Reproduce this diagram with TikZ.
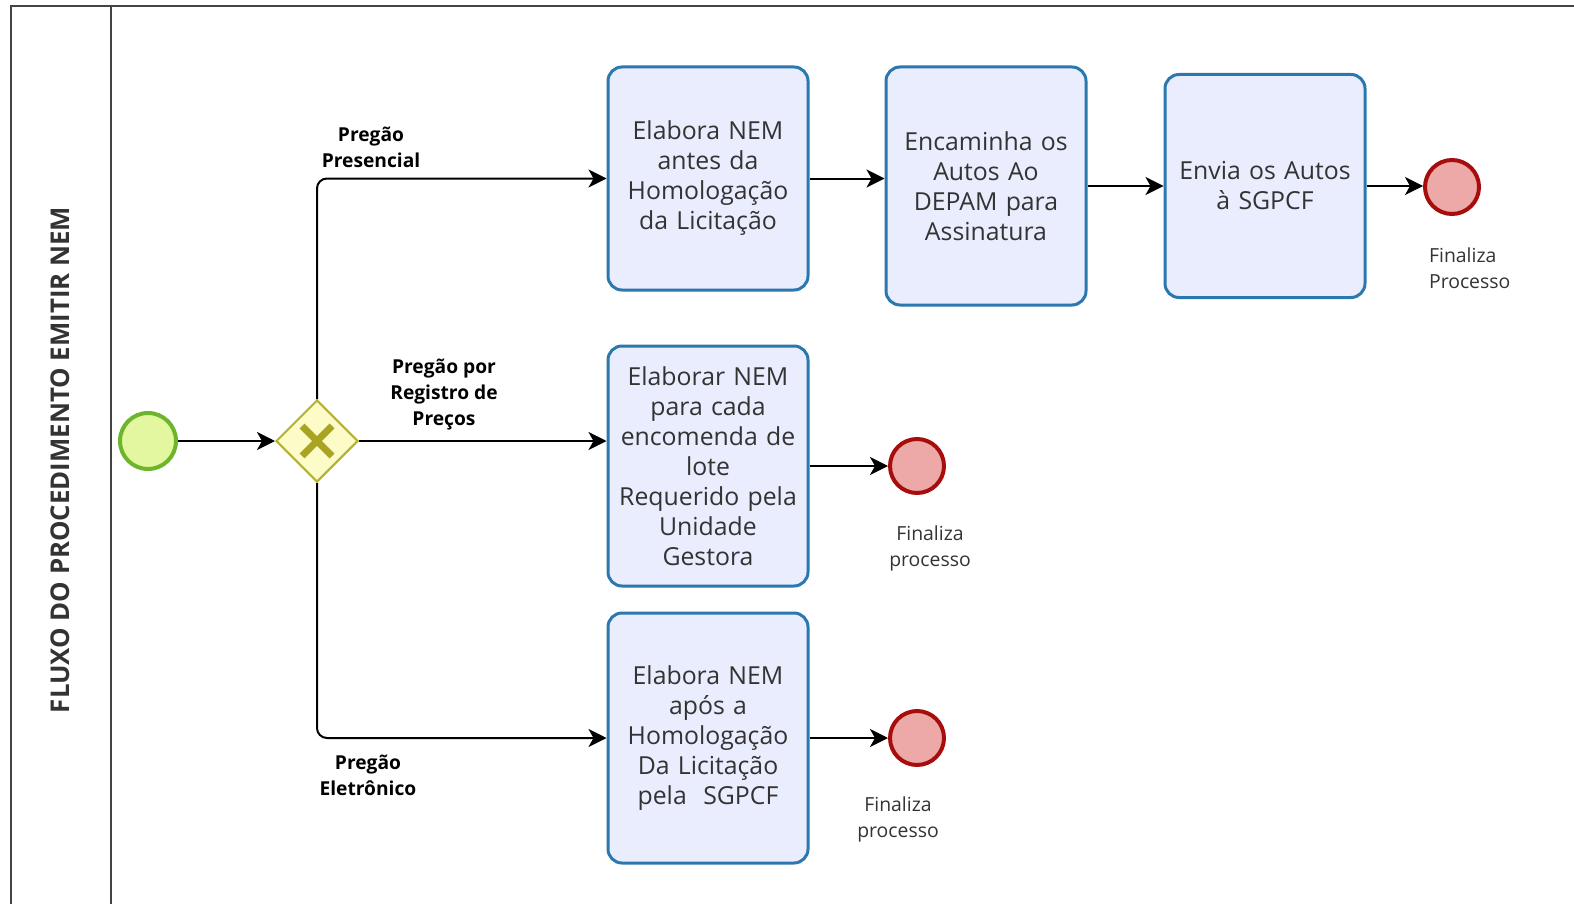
\documentclass[tikz,border=0pt]{standalone}
\usepackage{fontspec}
\setmainfont{Open Sans}
\usetikzlibrary{arrows.meta,shapes.geometric}
\definecolor{taskfill}{HTML}{E9EDFD}
\definecolor{taskline}{HTML}{2A78AE}
\definecolor{startfill}{HTML}{E2F7A0}
\definecolor{startline}{HTML}{6DB52B}
\definecolor{endfill}{HTML}{EDA8A8}
\definecolor{endline}{HTML}{A80D0D}
\definecolor{gwfill}{HTML}{FDFCC8}
\definecolor{gwline}{HTML}{B1B133}
\definecolor{gwmark}{HTML}{A9A523}
\definecolor{textgray}{HTML}{333333}
\definecolor{framegray}{HTML}{444444}
\begin{document}
\begin{tikzpicture}[x=0.5pt, y=-0.5pt,
    task/.style = {draw=taskline, line width=1.5pt, fill=taskfill, rounded corners=7pt, minimum width=100pt, text width=96pt, align=center, inner sep=0pt, text=textgray, font=\fontsize{12.4}{15}\selectfont},
    startev/.style = {circle, draw=startline, line width=2pt, fill=startfill, minimum size=28pt, inner sep=0pt},
    endev/.style = {circle, draw=endline, line width=2pt, fill=endfill, minimum size=27pt, inner sep=0pt},
    gateway/.style = {diamond, draw=gwline, line width=1pt, fill=gwfill, minimum width=41pt, minimum height=41pt, aspect=1, inner sep=0pt},
    flow/.style = {line width=1pt, -{Stealth[length=9pt, width=9pt, inset=2.5pt]}},
    lbl/.style = {align=center, font=\bfseries\fontsize{9.6}{13}\selectfont, text=black},
    endlbl/.style = {align=center, font=\fontsize{9.7}{13}\selectfont, text=textgray}]
    \useasboundingbox (0,0) rectangle (1574,904);
    % pool and lane
    \draw[framegray, line width=1.2pt] (11,904) -- (11,6) -- (1574,6);
    \draw[framegray, line width=1.2pt] (111,6) -- (111,904);
    \node (lane) at (60,460) [rotate=90, font=\bfseries\fontsize{12.9}{14}\selectfont, text=textgray] {FLUXO DO PROCEDIMENTO EMITIR NEM};
    % events and gateway
    \node (start) at (148,441) [startev] {};
    \node (gw) at (317,441) [gateway] {};
    \draw[gwmark, line width=3.5pt] (gw.center) ++(-15,-15) -- ++(30,30);
    \draw[gwmark, line width=3.5pt] (gw.center) ++(15,-15) -- ++(-30,30);
    % tasks
    \node (t1) at (708,178.5) [task, minimum height=111.5pt] {Elabora NEM\\antes da\\Homologação\\da Licitação};
    \node (t2) at (986,186) [task, minimum height=119pt] {Encaminha os\\Autos Ao\\DEPAM para\\Assinatura};
    \node (t3) at (1265,186) [task, minimum height=111.5pt] {Envia os Autos\\à SGPCF};
    \node (t4) at (708,466) [task, minimum height=120pt] {Elaborar NEM\\para cada\\encomenda de\\lote\\Requerido pela\\Unidade\\Gestora};
    \node (t5) at (708,738) [task, minimum height=125pt] {Elabora NEM\\após a\\Homologação\\Da Licitação\\pela\ \ SGPCF};
    \node (end1) at (1452,187) [endev] {};
    \node (end2) at (917,466) [endev] {};
    \node (end3) at (917,738) [endev] {};
    % connectors
    \draw[flow] (start) -- (gw);
    \draw[flow, rounded corners=5pt] (gw.north) |- (t1.west);
    \draw[flow] (gw.east) -- (gw.east -| t4.west);
    \draw[flow, rounded corners=5pt] (gw.south) |- (t5.west);
    \draw[flow] (t1.east) -- (t1.east -| t2.west);
    \draw[flow] (t2.east) -- (t2.east -| t3.west);
    \draw[flow] (t3.east) -- (t3.east -| end1.west);
    \draw[flow] (t4.east) -- (end2);
    \draw[flow] (t5.east) -- (end3);
    % labels
    \node (lbpres) at (371,147) [lbl] {Pregão\\Presencial};
    \node (lbreg) at (444,395) [lbl] {Pregão por\\Registro de\\Preços};
    \node (lbele) at (368,775) [lbl] {Pregão\\Eletrônico};
    \node (fin1) at (1422,268) [endlbl, anchor=west, align=left] {Finaliza\\Processo};
    \node (fin2) at (930,548) [endlbl] {Finaliza\\processo};
    \node (fin3) at (898,819) [endlbl] {Finaliza\\processo};
\end{tikzpicture}
\end{document}
